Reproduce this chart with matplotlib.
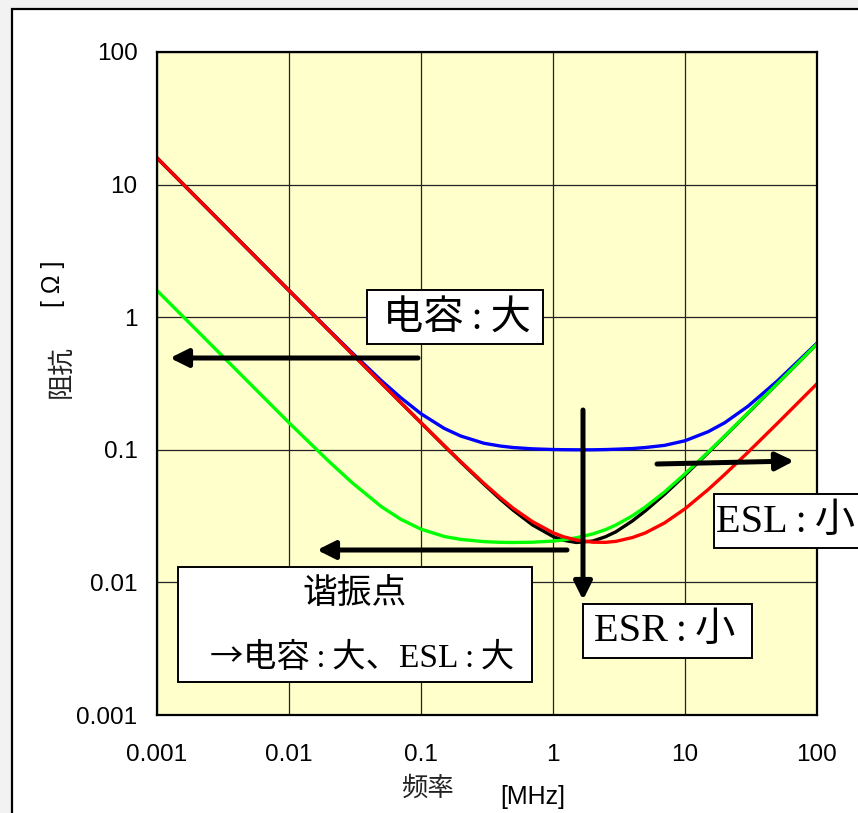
import matplotlib
matplotlib.use('Agg')
import matplotlib.pyplot as plt
from matplotlib.patches import Rectangle, FancyArrowPatch

# frequency [MHz] and impedance [ohm]
freq = [0.001, 0.01, 0.02, 0.03, 0.05, 0.07, 0.1, 0.15, 0.2, 0.3, 0.4, 0.5, 0.7, 1,
        1.2, 1.5, 2, 2.5, 3, 4, 5, 7, 10, 15, 20, 30, 50, 100]
z_base = [15.9, 1.59, 0.796, 0.531, 0.319, 0.228, 0.160, 0.107, 0.0808, 0.055, 0.0423,
          0.035, 0.0271, 0.0222, 0.0208, 0.020, 0.0205, 0.0221, 0.0241, 0.0291, 0.0346,
          0.0462, 0.0644, 0.0953, 0.1265, 0.189, 0.315, 0.629]
z_esr = [15.9, 1.59, 0.802, 0.540, 0.333, 0.248, 0.187, 0.145, 0.127, 0.112, 0.1067,
         0.104, 0.1017, 0.1005, 0.1002, 0.100, 0.100, 0.1004, 0.101, 0.1022, 0.104,
         0.108, 0.117, 0.137, 0.160, 0.213, 0.330, 0.637]
z_esl = [15.9, 1.59, 0.796, 0.531, 0.319, 0.228, 0.160, 0.1075, 0.0814, 0.0558, 0.0434,
         0.0362, 0.0287, 0.0237, 0.0221, 0.0209, 0.0201, 0.02005, 0.0204, 0.0218, 0.0236,
         0.0281, 0.0359, 0.0502, 0.0652, 0.0958, 0.158, 0.315]
z_cap = [1.59, 0.160, 0.082, 0.0566, 0.0373, 0.030, 0.0252, 0.0222, 0.0211, 0.0203,
         0.02005, 0.020, 0.0201, 0.0205, 0.0209, 0.0217, 0.0232, 0.0250, 0.0271, 0.0318,
         0.037, 0.0481, 0.0659, 0.0962, 0.127, 0.190, 0.315, 0.629]

xticks = [0.001, 0.01, 0.1, 1, 10, 100]
xticklabels = ['0.001', '0.01', '0.1', '1', '10', '100']
yticks = [0.001, 0.01, 0.1, 1, 10, 100]
yticklabels = ['0.001', '0.01', '0.1', '1', '10', '100']

W, H = 858, 813
def fx(x):
    return x / W
def fy(y):
    return 1 - y / H

serif_cjk = ['Liberation Serif', 'Noto Sans CJK JP']
sans_cjk = ['Liberation Sans', 'Noto Sans CJK JP']
ts = '\u2009'

fig = plt.figure(figsize=(8.58, 8.13), dpi=100, facecolor='#f2f2f2')

# white sheet with black frame
fig.add_artist(Rectangle((fx(12), fy(900)), fx(900), (900 - 9) / H,
                         transform=fig.transFigure, facecolor='white',
                         edgecolor='black', lw=1.6, zorder=-10))

ax = fig.add_axes([fx(157), fy(715), 660 / W, 663 / H])
ax.set_facecolor('#FFFFCC')
ax.set_xscale('log')
ax.set_yscale('log')
ax.set_xlim(0.001, 100)
ax.set_ylim(0.001, 100)

ax.plot(freq, z_esr, color='#0000FF', lw=2.4)
ax.plot(freq, z_base, color='black', lw=2.4)
ax.plot(freq, z_cap, color='#00FF00', lw=2.4)
ax.plot(freq, z_esl, color='#FF0000', lw=2.4)

ax.set_xticks(xticks)
ax.set_xticklabels(xticklabels)
ax.set_yticks(yticks)
ax.set_yticklabels(yticklabels)
ax.minorticks_off()
ax.tick_params(length=0, labelsize=17.5)
ax.tick_params(axis='x', pad=21)
ax.tick_params(axis='y', pad=14)
for lab in ax.get_xticklabels() + ax.get_yticklabels():
    lab.set_family('Liberation Sans')
ax.grid(True, color='#222222', lw=0.9)
for sp in ax.spines.values():
    sp.set_linewidth(1.6)

# axis titles
fig.text(fx(62), fy(372), '阻抗', rotation=90, ha='center', va='center',
         fontsize=19, family=sans_cjk, color='#222222')
fig.text(fx(53), fy(284), '[ Ω ]', rotation=90, ha='center', va='center',
         fontsize=18, family='Liberation Sans')
fig.text(fx(427), fy(789), '频率', ha='center', va='center',
         fontsize=19, family=sans_cjk, color='#222222')
fig.text(fx(533), fy(797), '[MHz]', ha='center', va='center',
         fontsize=18, family='Liberation Sans')

# arrows
def arrow(x0, y0, x1, y1):
    fig.add_artist(FancyArrowPatch(
        (fx(x0), fy(y0)), (fx(x1), fy(y1)), transform=fig.transFigure,
        arrowstyle='-|>,head_length=0.9,head_width=0.45', mutation_scale=12,
        lw=3.6, color='black', shrinkA=0, shrinkB=0, zorder=5))

arrow(418, 358, 170, 358)
arrow(567, 550, 317, 550)
arrow(657, 464, 794, 461)
arrow(583, 410, 583, 600)

# label boxes
def box(x0, y0, x1, y1):
    fig.add_artist(Rectangle((fx(x0), fy(y1)), (x1 - x0) / W, (y1 - y0) / H,
                             transform=fig.transFigure, facecolor='white',
                             edgecolor='black', lw=1.4, zorder=6))

box(367, 290, 543, 344)
fig.text(fx(457), fy(320), '电容' + ts + ':' + ts + '大', ha='center', va='center',
         fontsize=29, family=serif_cjk, zorder=7)

box(178, 567, 532, 682)
fig.text(fx(355), fy(594), '谐振点', ha='center', va='center',
         fontsize=25, family=serif_cjk, zorder=7)
fig.text(fx(226), fy(658), '→', ha='center', va='center',
         fontsize=24, family=['Noto Sans CJK JP'], zorder=7)
fig.text(fx(243), fy(658), '电容' + ts + ':' + ts + '大、ESL' + ts + ':' + ts + '大',
         ha='left', va='center', fontsize=24, family=serif_cjk, zorder=7)

box(583, 604, 752, 658)
fig.text(fx(665), fy(631), 'ESR' + ts + ':' + ts + '小', ha='center', va='center',
         fontsize=29, family=serif_cjk, zorder=7)

box(714, 494, 900, 548)
fig.text(fx(785), fy(522), 'ESL' + ts + ':' + ts + '小', ha='center', va='center',
         fontsize=29, family=serif_cjk, zorder=7)

fig.savefig('out.png', dpi=100, facecolor=fig.get_facecolor())
